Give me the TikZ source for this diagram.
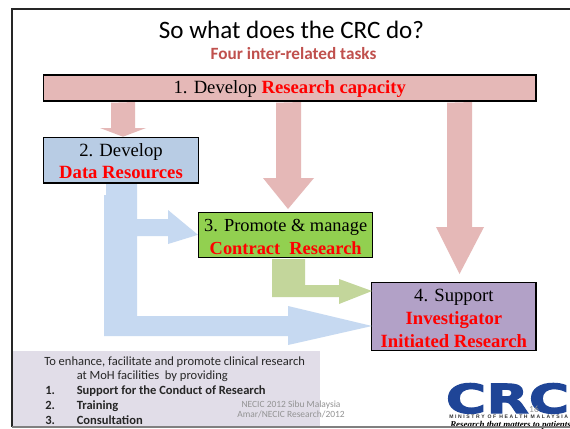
\documentclass[tikz,border=0pt]{standalone}
\usepackage{fontspec}
\setmainfont{Liberation Serif}
\newfontfamily\cali{Carlito}
\newfontfamily\heavy{DejaVu Sans}[BoldFeatures={FakeStretch=1.38,FakeBold=3}]
\newfontfamily\minist{Liberation Sans}[LetterSpace=32]
\newcommand{\fs}[1]{\fontsize{#1}{#1}\selectfont}
\newcommand{\lead}[2]{\fontsize{#1}{#2}\selectfont}
\newcommand{\rd}[1]{\textcolor{red}{\bfseries #1}}
\definecolor{pinkbox}{HTML}{E5B8B7}
\definecolor{bluebox}{HTML}{B8CCE4}
\definecolor{bluearrow}{HTML}{C6D9F1}
\definecolor{greenbox}{HTML}{92D050}
\definecolor{greenarrow}{HTML}{C3D69B}
\definecolor{purplebox}{HTML}{B2A1C7}
\definecolor{panel}{HTML}{E1DDE8}
\definecolor{subred}{HTML}{C0504D}
\definecolor{crcblue}{HTML}{1F4597}
\tikzset{
  taskbox/.style={draw=black,line width=1.1pt,inner sep=0pt,align=center,text=black},
  greytext/.style={inner sep=0pt,text=gray!85,font=\cali\fs{7.1},align=center},
  paneltext/.style={inner sep=0pt,anchor=base west,text=black!85,font=\cali\fs{9.4}},
  paneltextb/.style={paneltext,font=\cali\bfseries\fs{9.4}}
}
\begin{document}
\begin{tikzpicture}[x=0.75pt,y=-0.75pt]
\useasboundingbox (0,0) rectangle (570,428);
\fill[white] (0,0) rectangle (570,428);
% slide frame
\coordinate (fTL) at (11.5,9.5);
\coordinate (fTR) at (570,9.5);
\coordinate (fBL) at (11.5,427);
\coordinate (fBR) at (570,427);
\draw[black!85,line width=1.5pt] (fTR) -- (fTL) -- (fBL);
% panel
\fill[panel] (12.5,351) rectangle (320,428);
% logo
\node[inner sep=0pt,anchor=base west,text=crcblue,font=\heavy\bfseries\fs{30}] (logo) at (445.5,413) {CRC};
\node[inner sep=0pt,anchor=base west,text=black!80,font=\minist\bfseries\fs{3.8}] (ministry) at (449,418.5) {MINISTRY OF HEALTH MALAYSIA};
\node[inner sep=0pt,anchor=base west,text=black,font=\itshape\bfseries\fs{6.7}] (motto) at (450,427) {Research that matters to patients};
\draw[gray,line width=0.8pt] (fBL) -- (fBR);
% title
\node[inner sep=0pt,anchor=base,font=\cali\fs{18.8}] (title) at (291.5,38.5) {So what does the CRC do?};
\node[inner sep=0pt,anchor=base,text=subred,font=\cali\bfseries\fs{12.9}] (sub) at (293.5,60) {Four inter-related tasks};
% boxes
\node[taskbox,fill=pinkbox,minimum width=492.5*0.75pt,minimum height=26*0.75pt,font=\fs{14}] (box1) at (289.75,88) {\rule{0pt}{11pt}1. Develop \rd{Research capacity}};
\node[taskbox,fill=bluebox,minimum width=155*0.75pt,minimum height=45.5*0.75pt,font=\lead{14}{17}] (box2) at (121,160.2) {\rule{0pt}{11pt}2. Develop\\\rd{Data Resources}};
\node[taskbox,fill=greenbox,minimum width=174*0.75pt,minimum height=45*0.75pt,font=\lead{13.8}{17}] (box3) at (285.7,234.8) {\rule{0pt}{12.5pt}3. Promote \& manage\\\rd{Contract\ \ Research}};
\node[taskbox,fill=purplebox,minimum width=164.3*0.75pt,minimum height=67.6*0.75pt,font=\lead{14}{17}] (box4) at (453.9,316.5) {\rule{0pt}{12pt}4. Support\\\rd{Investigator}\\\rd{Initiated Research}};
% pink arrows
\fill[pinkbox] (111,0 |- box1.south) ++(0,1) -- (135,102) -- (135,128) -- (146,128) -- (123,0 |- box2.north) -- (100,128) -- (111,128) -- cycle;
\fill[pinkbox] (276,0 |- box1.south) ++(0,1) -- (301,102) -- (301,178) -- (314,178) -- (288,209) -- (263,178) -- (276,178) -- cycle;
\fill[pinkbox] (447,0 |- box1.south) ++(0,1) -- (472,102) -- (472,227) -- (484,227) -- (459.5,274) -- (436,227) -- (447,227) -- cycle;
% blue arrows
\fill[bluearrow] (106,184) -- (137,184) -- (137,219) -- (168,219) -- (168,210) -- (box3.west) -- (168,244) -- (168,236) -- (137,236) -- (137,316) -- (288,316) -- (288,306) -- (372,326) -- (288,345) -- (288,336) -- (104,336) -- (104,195) -- (106,195) -- cycle;
% green arrow
\fill[greenarrow] (272,259) -- (305,259) -- (305,285) -- (339,285) -- (339,279) -- (372,291) -- (339,304) -- (339,297) -- (272,297) -- cycle;
% panel text
\node[paneltext] (p1) at (44,365) {To enhance, facilitate and promote clinical research};
\node[paneltext] (p2) at (76.5,379.5) {at MoH facilities\ \ by providing};
\node[paneltextb] (n1) at (45,394.5) {1.};
\node[paneltextb] (t1) at (76.5,394.5) {Support for the Conduct of Research};
\node[paneltextb] (n2) at (45,409.5) {2.};
\node[paneltextb] (t2) at (76.5,409.5) {Training};
\node[paneltextb] (n3) at (45,424.5) {3.};
\node[paneltextb] (t3) at (76.5,424.5) {Consultation};
\node[greytext] (foot) at (291,409.5) {NECIC 2012 Sibu Malaysia\\Amar/NECIC Research/2012};
\node[greytext] (page) at (534,409.5) {16};
\end{tikzpicture}
\end{document}
